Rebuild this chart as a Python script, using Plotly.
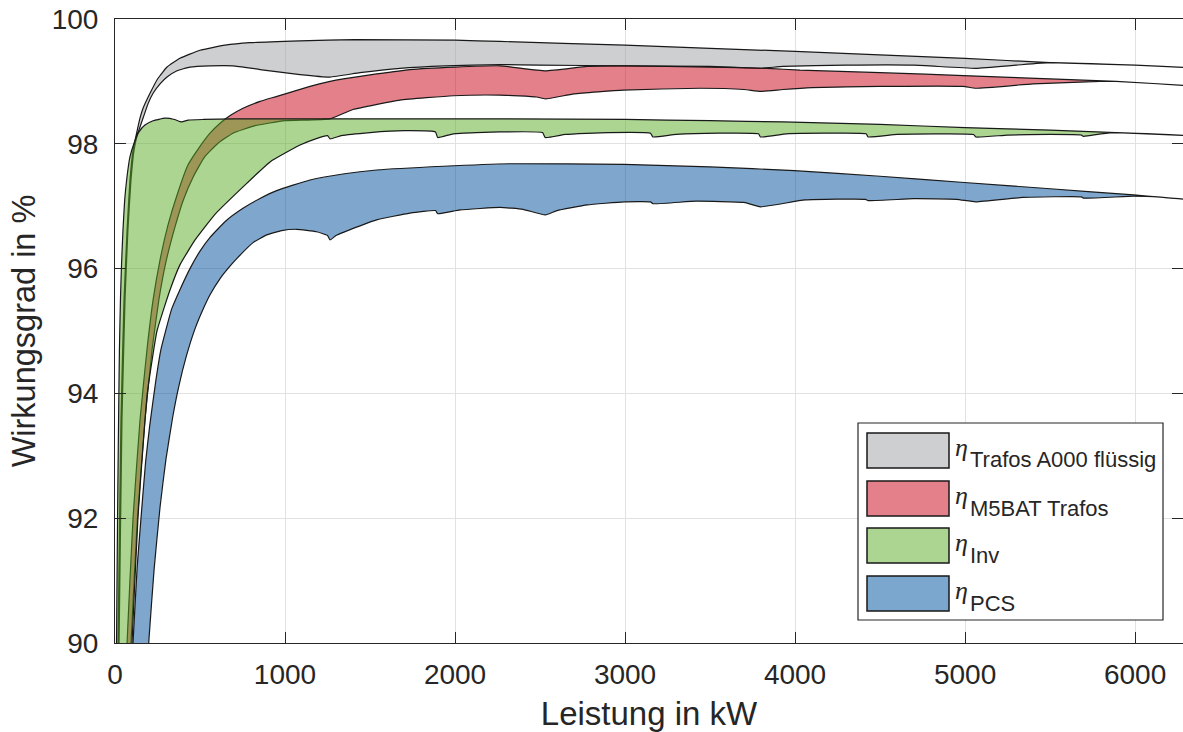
import plotly.graph_objects as go

# ---------------- data ----------------
# Trafos A000 flüssig (grey band)
trafo_up_kw = [17, 18, 35, 53, 71, 88, 106, 124, 144, 165, 206, 253, 306, 382, 500, 647, 794, 1088,
               1412, 2000, 2265, 3000, 4000, 5000, 5500, 6000, 6330]
trafo_up_eff = [89.6, 90.0, 93.57, 95.5, 96.62, 97.42, 97.90, 98.13, 98.38, 98.57, 98.81, 99.05, 99.23,
                99.37, 99.50, 99.58, 99.62, 99.65, 99.67, 99.66, 99.64, 99.58, 99.48, 99.37, 99.30,
                99.26, 99.22]
trafo_lo_kw = [23, 24, 41, 59, 76, 94, 112, 129, 147, 171, 194, 224, 265, 306, 365, 441, 559, 694, 853,
               1088, 1265, 1441, 1676, 1941, 2265, 2500, 3000, 3500, 3797, 3929, 4300, 4700, 5063, 5300,
               5500, 6000, 6330]
trafo_lo_eff = [89.6, 90.0, 93.57, 95.5, 96.62, 97.42, 97.90, 98.12, 98.27, 98.46, 98.64, 98.81, 98.96,
                99.07, 99.17, 99.23, 99.25, 99.25, 99.19, 99.11, 99.07, 99.14, 99.21, 99.25, 99.27, 99.26,
                99.25, 99.24, 99.21, 99.24, 99.26, 99.26, 99.21, 99.26, 99.30, 99.26, 99.22]

# M5BAT Trafos (red band)
m5_up_kw = [68, 71, 106, 147, 188, 224, 265, 312, 365, 429, 500, 559, 618, 682, 753, 853, 953, 1147,
            1265, 1343, 1539, 1735, 2000, 2265, 2531, 2777, 2990, 3500, 3835, 4029, 4500, 5029, 5500,
            5888, 6330]
m5_up_eff = [89.6, 90.0, 92.0, 93.57, 94.7, 95.5, 96.14, 96.7, 97.18, 97.66, 97.96, 98.17, 98.33, 98.46,
             98.57, 98.68, 98.76, 98.92, 99.0, 99.04, 99.12, 99.19, 99.23, 99.25, 99.17, 99.24, 99.25,
             99.23, 99.21, 99.18, 99.14, 99.09, 99.04, 99.0, 98.93]
m5_lo_kw = [91, 94, 132, 176, 218, 258, 300, 348, 402, 462, 527, 606, 694, 824, 1000, 1265, 1400, 1676,
            1990, 2265, 2480, 2531, 2700, 2990, 3441, 3700, 3797, 3929, 4100, 4500, 4988, 5063, 5400,
            5794, 5888, 6330]
m5_lo_eff = [89.6, 90.0, 92.0, 93.57, 94.70, 95.50, 96.11, 96.62, 97.10, 97.48, 97.79, 98.01, 98.17,
             98.29, 98.37, 98.40, 98.55, 98.70, 98.77, 98.78, 98.75, 98.72, 98.80, 98.86, 98.89, 98.87,
             98.84, 98.87, 98.90, 98.92, 98.92, 98.89, 98.96, 99.0, 99.0, 98.93]

# Inverter (green band)
inv_up_kw = [8, 9, 15, 21, 26, 32, 39, 47, 57, 71, 88, 112, 141, 176, 224, 294, 350, 392, 430, 520,
             700, 1500, 2300, 3000, 3500, 3929, 4500, 5000, 5500, 5888, 6330]
inv_up_eff = [89.6, 90.0, 92.0, 93.57, 94.7, 95.5, 96.11, 96.62, 97.10, 97.48, 97.79, 98.01, 98.19,
              98.30, 98.37, 98.41, 98.39, 98.35, 98.38, 98.39, 98.40, 98.40, 98.40, 98.39, 98.37, 98.35,
              98.31, 98.26, 98.22, 98.18, 98.13]
inv_lo_kw = [93, 100, 135, 190, 247, 324, 382, 471, 588, 753, 912, 1088, 1180, 1250, 1265, 1330, 1500,
             1700, 1885, 1898, 1990, 2265, 2515, 2531, 2650, 2900, 3150, 3164, 3300, 3550, 3785, 3797,
             3950, 4200, 4418, 4430, 4600, 4850, 5050, 5063, 5250, 5500, 5685, 5696, 5800, 5888, 6330]
inv_lo_eff = [89.6, 90.0, 92.0, 94.0, 95.0, 95.66, 96.06, 96.46, 96.87, 97.31, 97.71, 97.98, 98.08,
              98.13, 98.08, 98.13, 98.18, 98.21, 98.19, 98.10, 98.16, 98.19, 98.18, 98.10, 98.15, 98.18,
              98.17, 98.11, 98.15, 98.17, 98.16, 98.11, 98.16, 98.17, 98.16, 98.11, 98.15, 98.16, 98.15,
              98.11, 98.14, 98.15, 98.14, 98.12, 98.16, 98.18, 98.13]

# PCS (blue band)
pcs_up_kw = [98, 106, 130, 150, 180, 205, 240, 270, 333, 380, 441, 500, 559, 650, 755, 850, 951, 1147,
             1350, 1539, 1931, 2324, 2994, 3500, 3996, 4500, 4996, 5500, 5992, 6150, 6330]
pcs_up_eff = [89.6, 90.0, 91.2, 91.9, 92.9, 93.5, 94.2, 94.7, 95.35, 95.65, 96.0, 96.28, 96.5, 96.76,
              96.97, 97.12, 97.25, 97.42, 97.52, 97.58, 97.64, 97.68, 97.67, 97.63, 97.57, 97.48, 97.38,
              97.28, 97.18, 97.145, 97.10]
pcs_lo_kw = [190, 200, 230, 265, 300, 340, 375, 420, 470, 520, 559, 618, 680, 716, 814, 892, 980, 1069,
             1186, 1250, 1265, 1300, 1343, 1539, 1735, 1885, 1898, 2029, 2265, 2400, 2531, 2600, 2777,
             2994, 3150, 3164, 3418, 3700, 3797, 4059, 4415, 4430, 4698, 4950, 5063, 5339, 5685, 5696,
             5992, 6150, 6330]
pcs_lo_eff = [89.62, 90.07, 91.18, 92.18, 92.95, 93.63, 94.11, 94.6, 95.03, 95.36, 95.58, 95.84, 96.05,
              96.16, 96.42, 96.54, 96.61, 96.63, 96.59, 96.53, 96.46, 96.53, 96.58, 96.78, 96.89, 96.93,
              96.88, 96.94, 96.98, 96.95, 96.86, 96.93, 97.02, 97.07, 97.07, 97.04, 97.08, 97.06, 96.99,
              97.10, 97.11, 97.09, 97.12, 97.11, 97.07, 97.14, 97.15, 97.13, 97.16, 97.145, 97.10]

band_names = ["Trafos A000 flüssig", "M5BAT Trafos", "Inv", "PCS"]
band_colors = ["rgba(157,159,163,0.5)", "rgba(201,1,21,0.5)", "rgba(87,171,35,0.5)",
               "rgba(0,79,157,0.5)"]
legend_colors = ["rgb(206,207,209)", "rgb(228,128,138)", "rgb(171,213,145)", "rgb(123,167,206)"]

x_ticks = [0, 1000, 2000, 3000, 4000, 5000, 6000]
y_ticks = [90, 92, 94, 96, 98, 100]

# ---------------- figure ----------------
W, H = 1183, 732
ML, MR, MT, MB = 115, 0, 19, 89
PW, PH = W - ML - MR, H - MT - MB
EDGE = "rgb(25,25,25)"
AX = "rgb(38,38,38)"
FONT = "Liberation Sans, Arial, Helvetica, sans-serif"

fig = go.Figure()

bands = [
    (trafo_up_kw, trafo_up_eff, trafo_lo_kw, trafo_lo_eff),
    (m5_up_kw, m5_up_eff, m5_lo_kw, m5_lo_eff),
    (inv_up_kw, inv_up_eff, inv_lo_kw, inv_lo_eff),
    (pcs_up_kw, pcs_up_eff, pcs_lo_kw, pcs_lo_eff),
]
for (ux, uy, lx, ly), name, col in zip(bands, band_names, band_colors):
    xs = list(ux) + list(reversed(lx[:-1]))
    ys = list(uy) + list(reversed(ly[:-1]))
    fig.add_trace(go.Scatter(
        x=xs, y=ys, mode="lines", fill="toself", fillcolor=col,
        line=dict(color=EDGE, width=1.2, shape="spline", smoothing=0.4),
        name=name, hoverinfo="skip", showlegend=False))

axis_common = dict(
    showline=True, linecolor=AX, linewidth=1, mirror="ticks",
    ticks="inside", ticklen=11, tickwidth=1, tickcolor=AX,
    showgrid=True, gridcolor="rgb(225,225,225)", gridwidth=1, zeroline=False,
    tickfont=dict(family=FONT, size=28, color=AX),
)
fig.update_xaxes(range=[0, 6282], tickvals=x_ticks, ticktext=[str(v) for v in x_ticks],
                 title=dict(text="Leistung in kW", font=dict(family=FONT, size=33, color=AX), standoff=15),
                 ticklabelstandoff=6, **axis_common)
fig.update_yaxes(range=[90, 100], tickvals=y_ticks, ticktext=[str(v) for v in y_ticks],
                 title=dict(text="Wirkungsgrad in %", font=dict(family=FONT, size=32.5, color=AX), standoff=6),
                 ticklabelstandoff=10, **axis_common)


def px(xp):
    return (xp - ML) / PW


def py(yp):
    return (MT + PH - yp) / PH


shapes = [dict(type="rect", xref="paper", yref="paper", x0=px(858), x1=px(1163), y0=py(620), y1=py(423),
               fillcolor="white", line=dict(color=AX, width=1.2), layer="above")]
annotations = []
row_tops = [433, 481, 528, 576]
for top, name, col in zip(row_tops, band_names, legend_colors):
    shapes.append(dict(type="rect", xref="paper", yref="paper", x0=px(867), x1=px(949),
                       y0=py(top + 35), y1=py(top), fillcolor=col,
                       line=dict(color=EDGE, width=1.5), layer="above"))
    annotations.append(dict(xref="paper", yref="paper", x=px(953), y=py(top + 14), text="<i>η</i>",
                            showarrow=False, xanchor="left", yanchor="middle",
                            font=dict(family="Liberation Serif, DejaVu Serif, serif", size=26, color=AX)))
    annotations.append(dict(xref="paper", yref="paper", x=px(968), y=py(top + 27), text=name,
                            showarrow=False, xanchor="left", yanchor="middle",
                            font=dict(family=FONT, size=22, color=AX)))

fig.update_layout(
    width=W, height=H, autosize=False,
    margin=dict(l=ML, r=MR, t=MT, b=MB, pad=0),
    paper_bgcolor="white", plot_bgcolor="white",
    showlegend=False, shapes=shapes, annotations=annotations,
)

fig.write_html("out.html", config={"displayModeBar": False},
               post_script="document.body.style.margin='0';document.body.style.overflow='hidden';")
